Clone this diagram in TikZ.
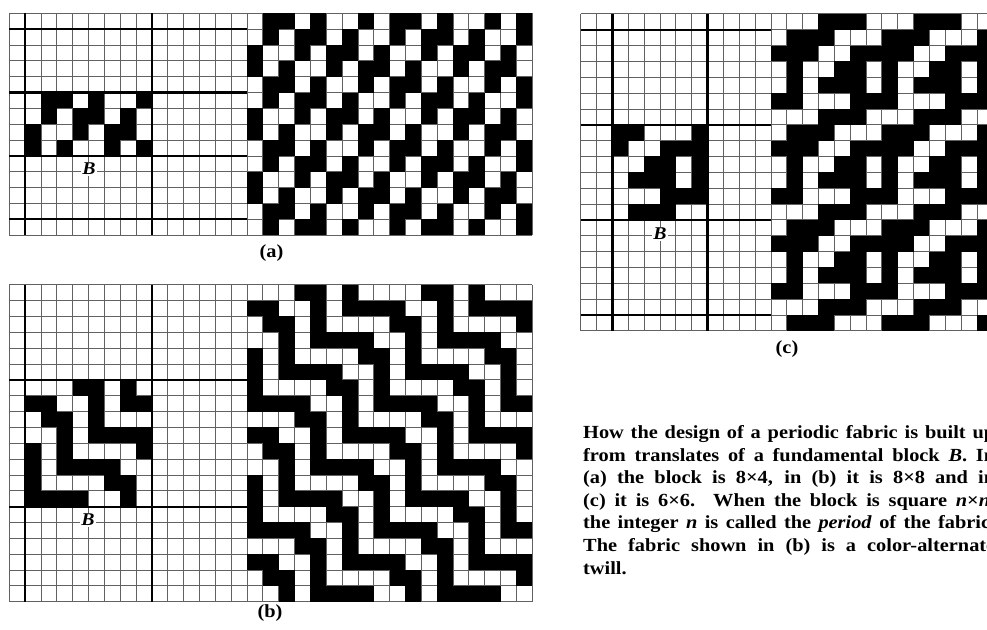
\documentclass[tikz,border=0pt]{standalone}
\usepackage{fontspec}
\setmainfont{Liberation Serif}
\newfontfamily\capfont[FakeStretch=1.1]{Liberation Serif}
\tikzset{
  gridthin/.style={line width=0.8pt, draw=black!62},
  gridthick/.style={line width=2.2pt, draw=black},
  cellfill/.style={fill=black},
  panellabel/.style={inner sep=0pt, font=\capfont\bfseries\fontsize{18.5}{22}\selectfont},
  blocklabel/.style={inner sep=1pt, fill=white, font=\capfont\bfseries\itshape\fontsize{18}{20}\selectfont},
  capline/.style={anchor=base west, inner sep=0pt, font=\capfont\bfseries\fontsize{18.5}{22}\selectfont},
}
\def\cs{15.85}
\def\Apat{{0,1,1,0,1,0,0,1, 0,1,0,1,1,0,1,0, 1,0,0,1,0,1,1,0, 1,0,1,0,0,1,0,1}}
\def\Bpat{{0,0,0,1,1,0,1,0, 1,1,0,0,1,0,1,1, 0,1,1,0,1,0,0,0, 0,0,1,0,1,1,1,1, 1,0,1,0,0,0,0,1, 1,0,1,1,1,1,0,0, 1,0,0,0,0,1,1,0, 1,1,1,1,0,0,1,0}}
\def\Cpat{{1,1,0,0,0,1, 1,0,0,1,1,1, 0,0,1,1,0,1, 0,1,1,1,0,1, 0,0,0,1,1,1, 0,1,1,1,0,0}}
% grid of thin lines: x0, y0, ncols, nrows
\newcommand\gridpanel[4]{%
  \foreach \i in {0,...,#3} {\draw[gridthin] ({#1+\i*\cs},#2) -- ({#1+\i*\cs},{#2+#4*\cs});}
  \foreach \j in {0,...,#4} {\draw[gridthin] (#1,{#2+\j*\cs}) -- ({#1+#3*\cs},{#2+\j*\cs});}
}
% black cells: x0, y0, rows, cols, pattern, row offset, col offset, row period, col period
\newcommand\cells[9]{%
  \foreach \R in {#3} {\foreach \C in {#4} {%
    \pgfmathtruncatemacro\cv{#5[mod(\R+#6,#8)*#9+mod(\C+#7,#9)]}%
    \ifnum\cv=1 \fill[cellfill] ({#1+\C*\cs},{#2+\R*\cs}) rectangle ++(\cs,\cs);\fi
  }}%
}
\begin{document}
\begin{tikzpicture}[x=1pt,y=-1pt]
\useasboundingbox (0,0) rectangle (987,629);
\clip (0,0) rectangle (987,629);
\fill[white] (0,0) rectangle (987,629);

% ---------- panel (a) ----------
\gridpanel{9.2}{13.3}{33}{14}
\cells{9.2}{13.3}{5,...,8}{1,...,8}{\Apat}{3}{7}{4}{8}
\cells{9.2}{13.3}{0,...,13}{15,...,32}{\Apat}{3}{7}{4}{8}
\foreach \c in {1,9} {\draw[gridthick] ({9.2+\c*\cs},13.3) -- ({9.2+\c*\cs},{13.3+14*\cs});}
\foreach \r in {1,5,9,13} {\draw[gridthick] (9.2,{13.3+\r*\cs}) -- ({9.2+15*\cs},{13.3+\r*\cs});}
\node[blocklabel] (BA) at (89,169) {B};
\node[panellabel] (labA) at (271.5,253.5) {(a)};

% ---------- panel (b) ----------
\gridpanel{9.2}{284.7}{33}{20}
\cells{9.2}{284.7}{6,...,13}{1,...,8}{\Bpat}{2}{7}{8}{8}
\cells{9.2}{284.7}{0,...,19}{15,...,32}{\Bpat}{2}{7}{8}{8}
\foreach \c in {1,9} {\draw[gridthick] ({9.2+\c*\cs},284.7) -- ({9.2+\c*\cs},{284.7+20*\cs});}
\foreach \r in {6,14} {\draw[gridthick] (9.2,{284.7+\r*\cs}) -- ({9.2+15*\cs},{284.7+\r*\cs});}
\node[blocklabel] (BB) at (88,520) {B};
\node[panellabel] (labB) at (270,613) {(b)};

% ---------- panel (c) ----------
\gridpanel{580.7}{13.8}{26}{20}
\cells{580.7}{13.8}{7,...,12}{2,...,7}{\Cpat}{5}{4}{6}{6}
\cells{580.7}{13.8}{0,...,19}{12,...,25}{\Cpat}{5}{4}{6}{6}
\foreach \c in {2,8} {\draw[gridthick] ({580.7+\c*\cs},13.8) -- ({580.7+\c*\cs},{13.8+20*\cs});}
\foreach \r in {1,7,13,19} {\draw[gridthick] (580.7,{13.8+\r*\cs}) -- ({580.7+12*\cs},{13.8+\r*\cs});}
\node[blocklabel] (BC) at (660,234) {B};
\node[panellabel] (labC) at (787,349) {(c)};

% ---------- caption ----------
\node[capline] (cap1) at (583,438.5) {\makebox[412pt][s]{How the design of a periodic fabric is built up}};
\node[capline] (cap2) at (583,461.1) {\makebox[412pt][s]{from translates of a fundamental block \textit{B}. In}};
\node[capline] (cap3) at (583,483.7) {\makebox[412pt][s]{(a) the block is 8×4, in (b) it is 8×8 and in}};
\node[capline] (cap4) at (583,506.3) {\makebox[412pt][s]{(c) it is 6×6. When the block is square \textit{n}×\textit{n},}};
\node[capline] (cap5) at (583,528.9) {\makebox[412pt][s]{the integer \textit{n} is called the \textit{period} of the fabric.}};
\node[capline] (cap6) at (583,551.5) {\makebox[412pt][s]{The fabric shown in (b) is a color-alternate}};
\node[capline] (cap7) at (583,574.1) {twill.};
\end{tikzpicture}
\end{document}
